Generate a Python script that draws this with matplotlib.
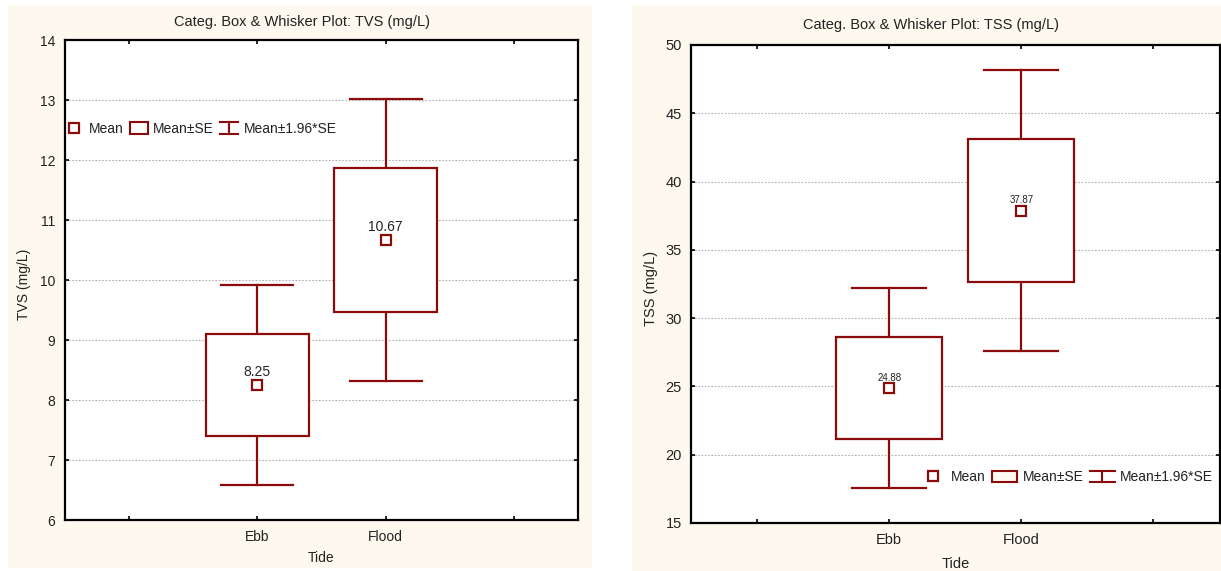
import matplotlib
matplotlib.use("Agg")
import matplotlib.pyplot as plt
from matplotlib.patches import Rectangle
from matplotlib.lines import Line2D
from matplotlib.legend_handler import HandlerBase

plt.rcParams['font.family'] = ['Liberation Sans', 'DejaVu Sans']

# ---- data ----
categories = ["Ebb", "Flood"]
tvs_mean = [8.25, 10.67]
tvs_se = [0.85, 1.20]
tss_mean = [24.88, 37.87]
tss_se = [3.75, 5.25]
tvs_ticks = [6, 7, 8, 9, 10, 11, 12, 13, 14]
tss_ticks = [15, 20, 25, 30, 35, 40, 45, 50]

RED = '#8b0a0a'
CREAM = '#fdf9ee'
TXT = '#222222'
W, H = 1221, 571
fig = plt.figure(figsize=(W / 100, H / 100), dpi=100)
fig.patch.set_facecolor('white')

# panel backgrounds
fig.patches.append(Rectangle((8 / W, 1 - 568 / H), (592 - 8) / W, (568 - 5) / H,
                             transform=fig.transFigure, fc=CREAM, ec='none', zorder=-10))
fig.patches.append(Rectangle((632 / W, 0), (W - 632) / W, (571 - 5) / H,
                             transform=fig.transFigure, fc=CREAM, ec='none', zorder=-10))


class IBeamHandler(HandlerBase):
    def create_artists(self, legend, orig_handle, xdescent, ydescent, width, height, fontsize, trans):
        x0, y0 = -xdescent, -ydescent
        kw = dict(color=RED, lw=1.5, transform=trans)
        return [Line2D([x0, x0 + width], [y0 + height, y0 + height], **kw),
                Line2D([x0 + width / 2, x0 + width / 2], [y0, y0 + height], **kw),
                Line2D([x0, x0 + width], [y0, y0], **kw)]


class BoxHandler(HandlerBase):
    def __init__(self, fc):
        super().__init__()
        self.fc = fc

    def create_artists(self, legend, orig_handle, xdescent, ydescent, width, height, fontsize, trans):
        x0, y0 = -xdescent, -ydescent
        return [Rectangle((x0, y0), width, height, fc=self.fc, ec=RED, lw=1.5, transform=trans)]


def draw_panel(rect, means, ses, ticks, title, title_xy, ylabel, fs, leg_fs, label_fs,
               legend_anchor, legend_fc, handlelen, ylab_xy, xlab_y, ypad):
    ax = fig.add_axes(rect)
    ax.set_zorder(1)
    ax.set_facecolor('white')
    xs = list(range(1, len(categories) + 1))
    box_w = 0.80
    cap_w = 0.56
    for x, m, s in zip(xs, means, ses):
        lo, hi = m - s, m + s
        wlo, whi = m - 1.96 * s, m + 1.96 * s
        ax.plot([x, x], [hi, whi], color=RED, lw=1.6, zorder=3)
        ax.plot([x, x], [wlo, lo], color=RED, lw=1.6, zorder=3)
        ax.plot([x - cap_w / 2, x + cap_w / 2], [whi, whi], color=RED, lw=1.6, zorder=3)
        ax.plot([x - cap_w / 2, x + cap_w / 2], [wlo, wlo], color=RED, lw=1.6, zorder=3)
        ax.add_patch(Rectangle((x - box_w / 2, lo), box_w, hi - lo, fc='white', ec=RED,
                               lw=1.6, zorder=3))
        ax.plot([x], [m], marker='s', ms=6.5, mfc='white', mec=RED, mew=1.6, ls='none', zorder=4)
        ax.annotate(f"{m:.2f}", (x, m), xytext=(0, 4), textcoords='offset points',
                    ha='center', va='bottom', fontsize=label_fs, color=TXT, zorder=5)

    ax.set_xlim(-0.5, 3.5)
    ax.set_ylim(ticks[0], ticks[-1])
    ax.set_yticks(ticks)
    ax.set_xticks([0, 1, 2, 3])
    ax.set_xticklabels([""] + categories + [""])
    ax.tick_params(axis='both', direction='in', length=3, width=1.2, top=True, right=True,
                   labelsize=fs, colors='black', labelcolor=TXT)
    ax.tick_params(axis='x', pad=7)
    ax.tick_params(axis='y', pad=ypad)
    for sp in ax.spines.values():
        sp.set_linewidth(1.6)
        sp.set_color('black')
    for t in ticks[1:-1]:
        ax.axhline(t, color='#b0b0b0', lw=0.8, ls=(0, (1.5, 1.5)), zorder=1)

    fig.text(title_xy[0] / W, 1 - title_xy[1] / H, title, fontsize=10.5, color=TXT,
             ha='center', va='center')

    ax.set_ylabel(ylabel, fontsize=fs, color=TXT, va='center')
    ax.yaxis.set_label_coords(ylab_xy[0], ylab_xy[1])
    ax.set_xlabel("Tide", fontsize=fs, color=TXT, va='center')
    ax.xaxis.set_label_coords(0.5, xlab_y)

    h_mean = Line2D([], [], marker='s', ms=6.5, mfc='white', mec=RED, mew=1.6, ls='none')
    h_box = Rectangle((0, 0), 1, 1)
    h_ib = Line2D([], [])
    leg = ax.legend([h_mean, h_box, h_ib], ["Mean", "Mean±SE", "Mean±1.96*SE"],
                    handler_map={h_box: BoxHandler(legend_fc), h_ib: IBeamHandler()},
                    loc='center left', bbox_to_anchor=legend_anchor, ncol=3, frameon=False,
                    fontsize=leg_fs, handlelength=handlelen, handleheight=0.85,
                    handletextpad=0.4, columnspacing=0.45, borderaxespad=0, borderpad=0)
    for t in leg.get_texts():
        t.set_color(TXT)
    return ax


# left panel: axes 65..578 x, 40..520 y
draw_panel([65 / W, 1 - 520 / H, (578 - 65) / W, (520 - 40) / H],
           tvs_mean, tvs_se, tvs_ticks, "Categ. Box & Whisker Plot: TVS (mg/L)", (302, 22),
           "TVS (mg/L)", 10, 10, 10, (0.0, 0.815), 'white', 1.3,
           (-0.08, 0.49), -0.08, 7)

# right panel: axes 691..1219.5 x, 45..523 y
draw_panel([691 / W, 1 - 523 / H, (1219.5 - 691) / W, (523 - 45) / H],
           tss_mean, tss_se, tss_ticks, "Categ. Box & Whisker Plot: TSS (mg/L)", (931, 25),
           "TSS (mg/L)", 10.5, 10, 7, (0.434, 0.096), CREAM, 1.8,
           (-0.076, 0.49), -0.086, 6.5)

fig.savefig("out.png", dpi=100, facecolor='white')
